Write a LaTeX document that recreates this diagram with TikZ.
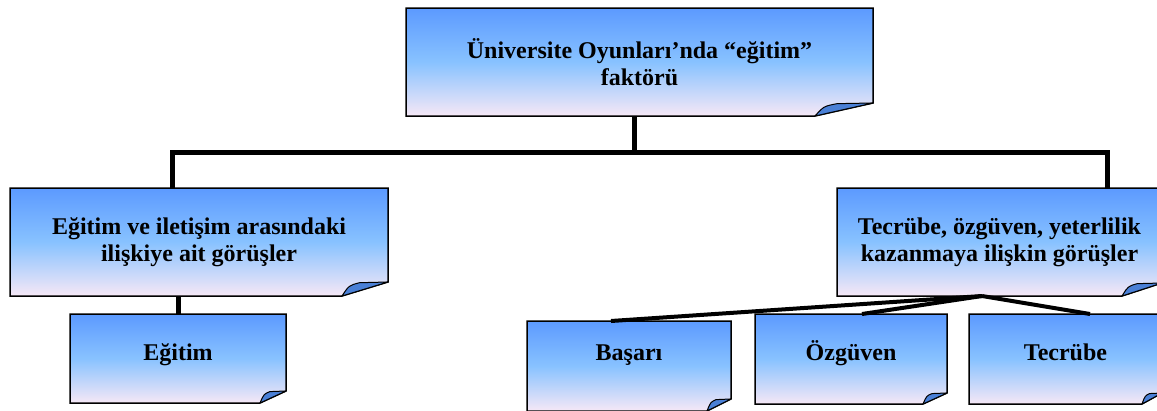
\documentclass[tikz,border=0pt]{standalone}
\usepackage{fontspec}
\setmainfont{Liberation Serif}
\usetikzlibrary{backgrounds}

\definecolor{notetop}{RGB}{92,154,255}
\definecolor{notemid}{RGB}{136,194,255}
\definecolor{notebot}{RGB}{246,232,246}
\definecolor{foldblue}{RGB}{74,128,214}

\tikzset{
  note/.style={draw=none, outer sep=0pt, inner sep=0pt, align=center,
    font=\bfseries\fontsize{24}{27}\selectfont},
  notefill/.style={draw=black, line width=1.5pt, line join=miter,
    top color=notetop, bottom color=notebot, middle color=notemid},
  fold/.style={draw=black, line width=1pt, fill=foldblue, line join=round},
  trunk/.style={line width=5pt},
  fanline/.style={line width=4pt}
}

\begin{document}
\begin{tikzpicture}[x=1pt, y=-1pt]

\useasboundingbox (0,0) rectangle (1157,410);

% The boxes (centre, width, height)
\node[note, minimum width=467pt, minimum height=108pt] (top) at (639.5,62)
  {Üniversite Oyunları’nda “eğitim”\\faktörü};
\node[note, minimum width=378pt, minimum height=108pt] (left) at (199,242)
  {Eğitim ve iletişim arasındaki\\ilişkiye ait görüşler};
\node[note, minimum width=325pt, minimum height=108pt] (right) at (999.5,242)
  {Tecrübe, özgüven, yeterlilik\\kazanmaya ilişkin görüşler};

% text height/depth put the baselines of the small boxes on one line
\node[note, minimum width=216pt, minimum height=89pt, text height=20pt, text depth=17pt]
  (egitim) at (178,358.5) {Eğitim};
\node[note, minimum width=204pt, minimum height=90pt, text height=20pt, text depth=32pt]
  (basari) at (629,366) {Başarı};
\node[note, minimum width=192pt, minimum height=90pt, text height=20pt, text depth=18pt]
  (ozguven) at (851,359) {Özgüven};
\node[note, minimum width=193pt, minimum height=90pt, text height=20pt, text depth=18pt]
  (tecrube) at (1065.5,359) {Tecrübe};

% Paper shapes with the folded corner, behind the texts
\begin{pgfonlayer}{background}
\clip (0,0) rectangle (1157,410);
\foreach \n/\dx/\dy in {top/58/13, left/46/14, right/40/13, egitim/26/12,
                        basari/24/12, ozguven/24/11, tecrube/20/11} {
  \shadedraw[notefill] (\n.north west) -- (\n.north east)
    -- ([yshift=\dy pt]\n.south east) -- ([xshift=-\dx pt]\n.south east)
    -- (\n.south west) -- cycle;
  \filldraw[fold] ([xshift=-\dx pt]\n.south east)
    .. controls ([xshift=-0.85*\dx pt, yshift=0.75*\dy pt]\n.south east)
    .. ([xshift=-0.62*\dx pt, yshift=0.95*\dy pt]\n.south east)
    -- ([yshift=\dy pt]\n.south east) -- cycle;
}
\end{pgfonlayer}

% Tree lines
\coordinate (bus) at (634,152);
\draw[trunk] (top.south -| bus) -- (bus);
\draw[trunk] ([xshift=-27pt]left.north) |- (bus) -| ([xshift=107.5pt]right.north);
\draw[trunk] (egitim.north) -- (egitim.north |- left.south);

% Fan below the right box
\foreach \n\s in {basari/-18, ozguven/11, tecrube/24.5} {
  \draw[fanline] ([xshift=-17.5pt]right.south) -- ([xshift=\s pt]\n.north);
}

\end{tikzpicture}
\end{document}
